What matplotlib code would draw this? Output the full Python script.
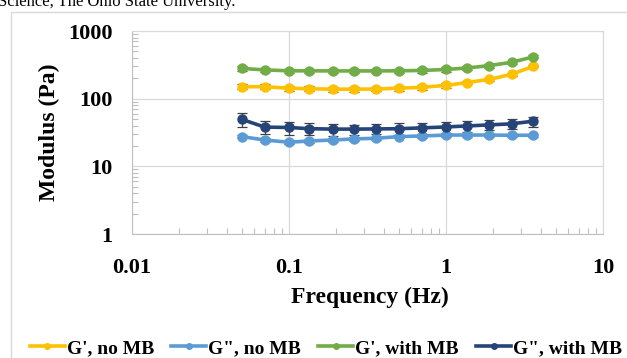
import matplotlib
matplotlib.use('Agg')
import matplotlib.pyplot as plt
from matplotlib.ticker import LogLocator, NullFormatter, FixedLocator
from matplotlib.patches import Rectangle
from matplotlib.lines import Line2D

# frequency (Hz)
freq = [0.05, 0.07, 0.1, 0.135, 0.19, 0.26, 0.36, 0.5, 0.7, 1.0, 1.36, 1.89, 2.62, 3.6]

# modulus (Pa)
g1_no_mb = [150, 150, 143, 140, 138, 138, 139, 143, 147, 157, 173, 193, 229, 302]
g2_no_mb = [27.5, 24.5, 22.7, 23.7, 24.5, 25.4, 26, 27.5, 28.1, 29, 29, 29, 28.8, 28.8]
g1_mb = [280, 266, 258, 258, 257, 257, 257, 258, 261, 270, 284, 308, 345, 415]
g2_mb = [49.5, 38, 37.5, 36, 35.5, 35.5, 35.7, 36, 37, 38.2, 39.5, 41, 42.5, 46.5]

# error bars
err_g1_no_mb = [12, 12, 12, 12, 11, 11, 11, 11, 11, 11, 11, 11, 11, 11]
err_g2_no_mb = [1.5, 1.5, 1.5, 1.5, 1.5, 1.5, 1.5, 1.5, 1.5, 1.5, 1.5, 1.5, 1.5, 1.5]
err_g1_mb = [25, 22, 20, 20, 20, 20, 20, 20, 20, 20, 20, 20, 20, 20]
err_g2_mb = [11, 8, 8, 7, 7, 6, 6, 7, 7, 7, 7, 7, 7, 8]

labels = ["G', no MB", 'G", no MB', "G', with MB", 'G", with MB']
colors = ['#FFC000', '#5B9BD5', '#70AD47', '#264478']

W, H = 627, 358
fig = plt.figure(figsize=(W / 100, H / 100), dpi=100)
plt.rcParams['font.family'] = ['Liberation Serif', 'DejaVu Serif']

# outer chart border
fig.patches.append(Rectangle((11 / W, -0.1), 1.2, 1 - 12 / H + 0.1, transform=fig.transFigure,
                             fill=False, edgecolor='#D9D9D9', linewidth=1.0))

# caption text above the chart (cut off at the top edge, as in the source page)
fig.text(-2 / W, 1 - 6 / H, 'Science, The Ohio State University.', ha='left', va='baseline',
         fontsize=12, color='black')

ax = fig.add_axes([132 / W, 1 - 234 / H, (603 - 132) / W, (234 - 31) / H])

series = [(g1_no_mb, err_g1_no_mb), (g2_no_mb, err_g2_no_mb), (g1_mb, err_g1_mb), (g2_mb, err_g2_mb)]
for (vals, err), col in zip(series, colors):
    ax.errorbar(freq, vals, yerr=err, color=col, marker='o', markersize=6.5, linewidth=2.6,
                ecolor='#404040', elinewidth=0.9, capsize=3.5, capthick=0.9, zorder=3)

ax.set_xscale('log')
ax.set_yscale('log')
ax.set_xlim(0.01, 10)
ax.set_ylim(1, 1000)

ax.xaxis.set_major_locator(FixedLocator([0.01, 0.1, 1, 10]))
ax.yaxis.set_major_locator(FixedLocator([1, 10, 100, 1000]))
ax.set_xticklabels(['0.01', '0.1', '1', '10'])
ax.set_yticklabels(['1', '10', '100', '1000'])
ax.xaxis.set_minor_locator(LogLocator(base=10, subs=range(2, 10)))
ax.yaxis.set_minor_locator(LogLocator(base=10, subs=range(2, 10)))
ax.xaxis.set_minor_formatter(NullFormatter())
ax.yaxis.set_minor_formatter(NullFormatter())

ax.grid(True, which='major', color='#D9D9D9', linewidth=0.9)
ax.set_axisbelow(True)
ax.tick_params(which='major', length=0, labelsize=16)
ax.tick_params(axis='y', which='major', pad=14)
ax.tick_params(axis='x', which='major', pad=17)
ax.tick_params(which='minor', direction='in', length=4, color='#BFBFBF', width=0.8)
ax.tick_params(axis='x', which='minor', top=False)
ax.tick_params(axis='y', which='minor', right=False)
for lab in ax.get_xticklabels() + ax.get_yticklabels():
    lab.set_fontweight('bold')

for side in ['left', 'bottom']:
    ax.spines[side].set_color('#BFBFBF')
for side in ['top', 'right']:
    ax.spines[side].set_color('#D9D9D9')

ax.set_xlabel('Frequency (Hz)', fontsize=17, fontweight='bold')
ax.set_ylabel('Modulus (Pa)', fontsize=17, fontweight='bold')
ax.xaxis.set_label_coords((370 - 132) / (603 - 132), -(297 - 234) / (234 - 31), transform=ax.transAxes)
ax.yaxis.set_label_coords(-(132 - 49) / (603 - 132), 0.5, transform=ax.transAxes)
ax.xaxis.label.set_va('center')
ax.yaxis.label.set_va('center')

handles = [Line2D([], [], color=c, linewidth=2.6, marker='o', markersize=4) for c in colors]
fig.legend(handles, labels, loc='center', bbox_to_anchor=(326 / W, 1 - 348 / H), ncol=4,
           frameon=False, handlelength=1.8, handletextpad=0.1, columnspacing=0.9,
           prop={'weight': 'bold', 'size': 14})

fig.savefig('out.png', dpi=100)
